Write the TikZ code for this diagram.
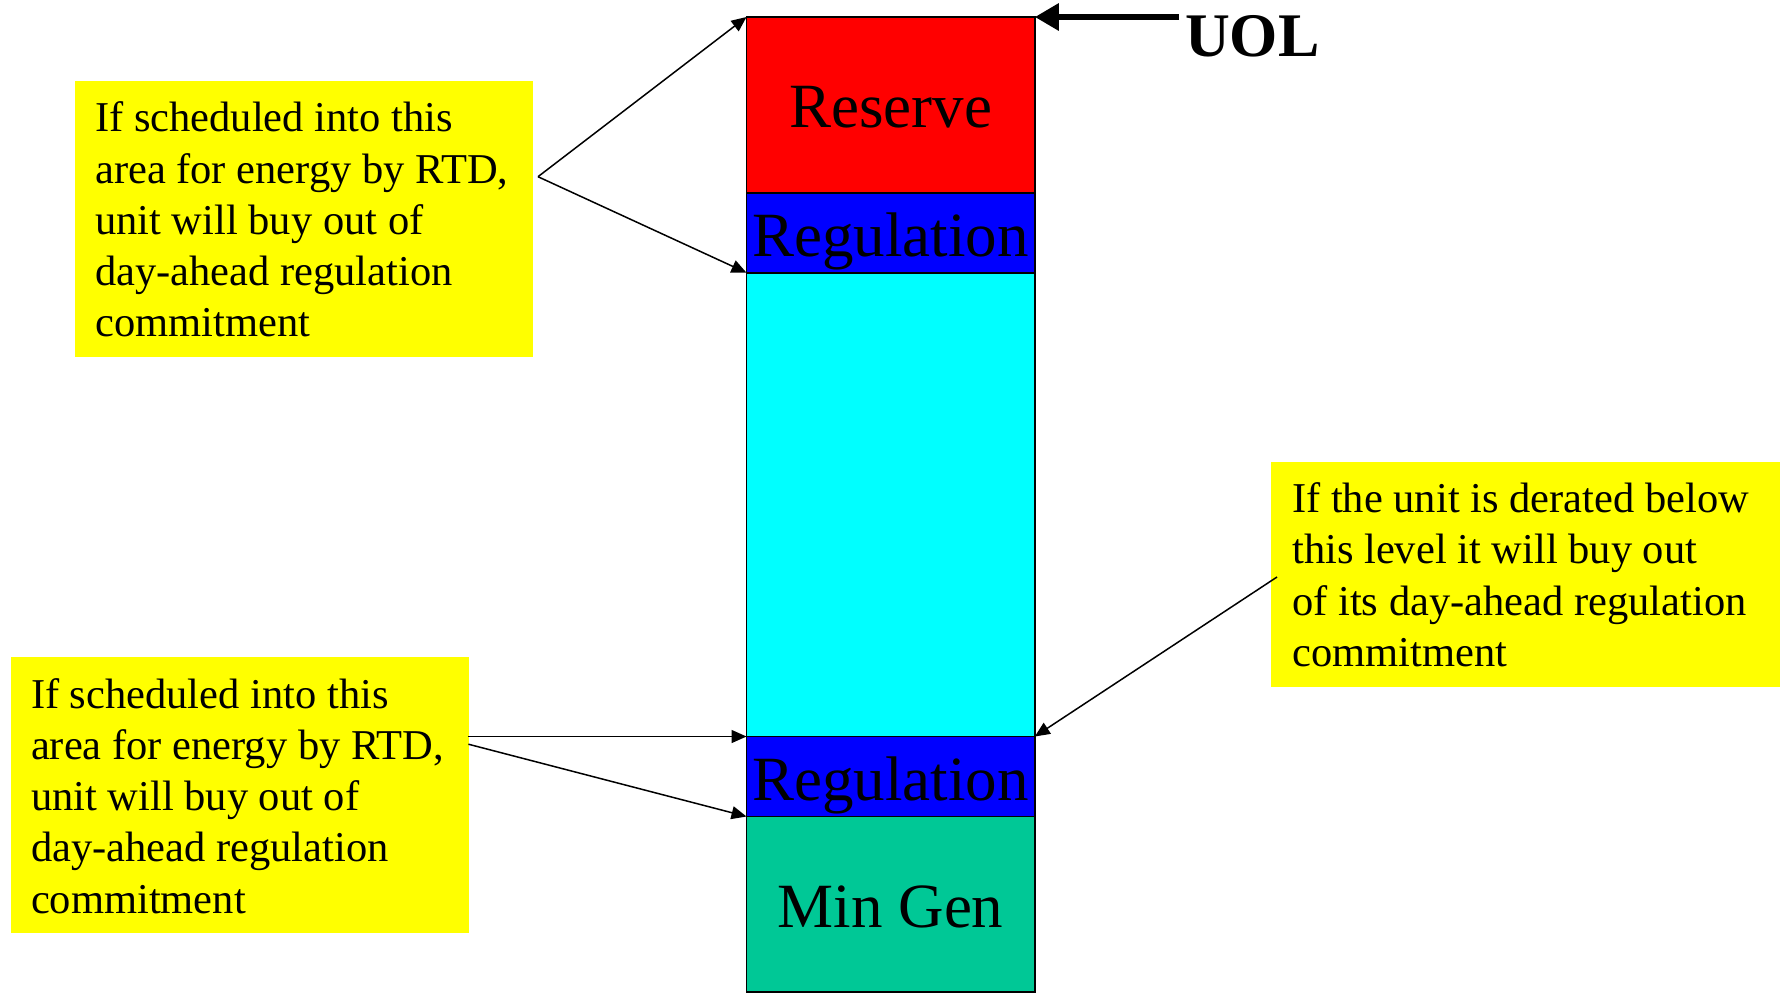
\documentclass[tikz,border=0pt]{standalone}
\usepackage{fontspec}
\setmainfont{Liberation Serif}
\usetikzlibrary{arrows.meta}
\definecolor{mingen}{HTML}{00C896}
\definecolor{rsvred}{HTML}{FF0000}
\definecolor{regblue}{HTML}{0000FF}
\definecolor{engcyan}{HTML}{00FFFF}
\definecolor{noteyellow}{HTML}{FFFF00}
\begin{document}
\begin{tikzpicture}[x=1pt,y=-1pt,
  band/.style={draw=black, line width=1.75pt, minimum width=288.3pt, inner sep=0pt, outer sep=0pt, anchor=north west},
  bandlabel/.style={font=\fontsize{63}{75}\selectfont, anchor=base, inner sep=0pt},
  notebox/.style={fill=noteyellow, inner sep=0pt, outer sep=0pt, anchor=north west},
  notetext/.style={font=\fontsize{42.5}{51.2}\selectfont, align=left, anchor=base west, inner sep=0pt},
  pointer/.style={draw=black, line width=1.5pt, -{Triangle[length=15pt,width=13pt]}},
]
\useasboundingbox (0,0) rectangle (1787,994);

% column bands
\node[band, fill=rsvred, minimum height=175.7pt] (reserve) at (746.5,17) {};
\node[band, fill=regblue, minimum height=80pt] (reg1) at (746.5,192.7) {};
\node[band, fill=engcyan, minimum height=463.8pt] (energy) at (746.5,272.7) {};
\node[band, fill=regblue, minimum height=80pt] (reg2) at (746.5,736.5) {};
\node[band, fill=mingen, minimum height=175.5pt] (mingen) at (746.5,816.5) {};

\node[bandlabel] (reservelbl) at (890.6,127.7) {Reserve};
\node[bandlabel] (reg1lbl) at (890.6,256) {Regulation};
\node[bandlabel] (reg2lbl) at (890.6,800) {Regulation};
\node[bandlabel] (mingenlbl) at (890.6,927.7) {Min Gen};

% UOL
\node[font=\fontsize{62}{74}\selectfont\bfseries, anchor=base west, inner sep=0pt] (uol) at (1185,56.7) {UOL};
\coordinate (uolstart) at (1179,17);
\draw[line width=6pt, -{Triangle[length=24pt,width=26pt]}] (uolstart) -- (reserve.north east);

% upper-left note (anchor is the last line's baseline)
\node[notebox, minimum width=457.5pt, minimum height=275.7pt] (ulbox) at (75,81) {};
\node[notetext] (ultext) at (95,336.7) {If scheduled into this\\area for energy by RTD,\\unit will buy out of\\day-ahead regulation\\commitment};
\coordinate (ulfork) at (538,176.7);
\draw[pointer] (ulfork) -- (reserve.north west);
\draw[pointer] (ulfork) -- (reg1.south west);

% lower-left note
\node[notebox, minimum width=457.8pt, minimum height=276pt] (llbox) at (11,656.7) {};
\node[notetext] (lltext) at (30.8,913) {If scheduled into this\\area for energy by RTD,\\unit will buy out of\\day-ahead regulation\\commitment};
\coordinate (llstartA) at (468.4,736.5);
\coordinate (llstartB) at (468.4,744.2);
\draw[pointer] (llstartA) -- (reg2.north west);
\draw[pointer] (llstartB) -- (reg2.south west);

% right note
\node[notebox, minimum width=509.2pt, minimum height=224.5pt] (rbox) at (1271,462) {};
\node[notetext] (rtext) at (1292,666.3) {If the unit is derated below\\this level it will buy out\\of its day-ahead regulation\\commitment};
\coordinate (rstart) at (1277,577);
\draw[pointer] (rstart) -- (reg2.north east);
\end{tikzpicture}
\end{document}
